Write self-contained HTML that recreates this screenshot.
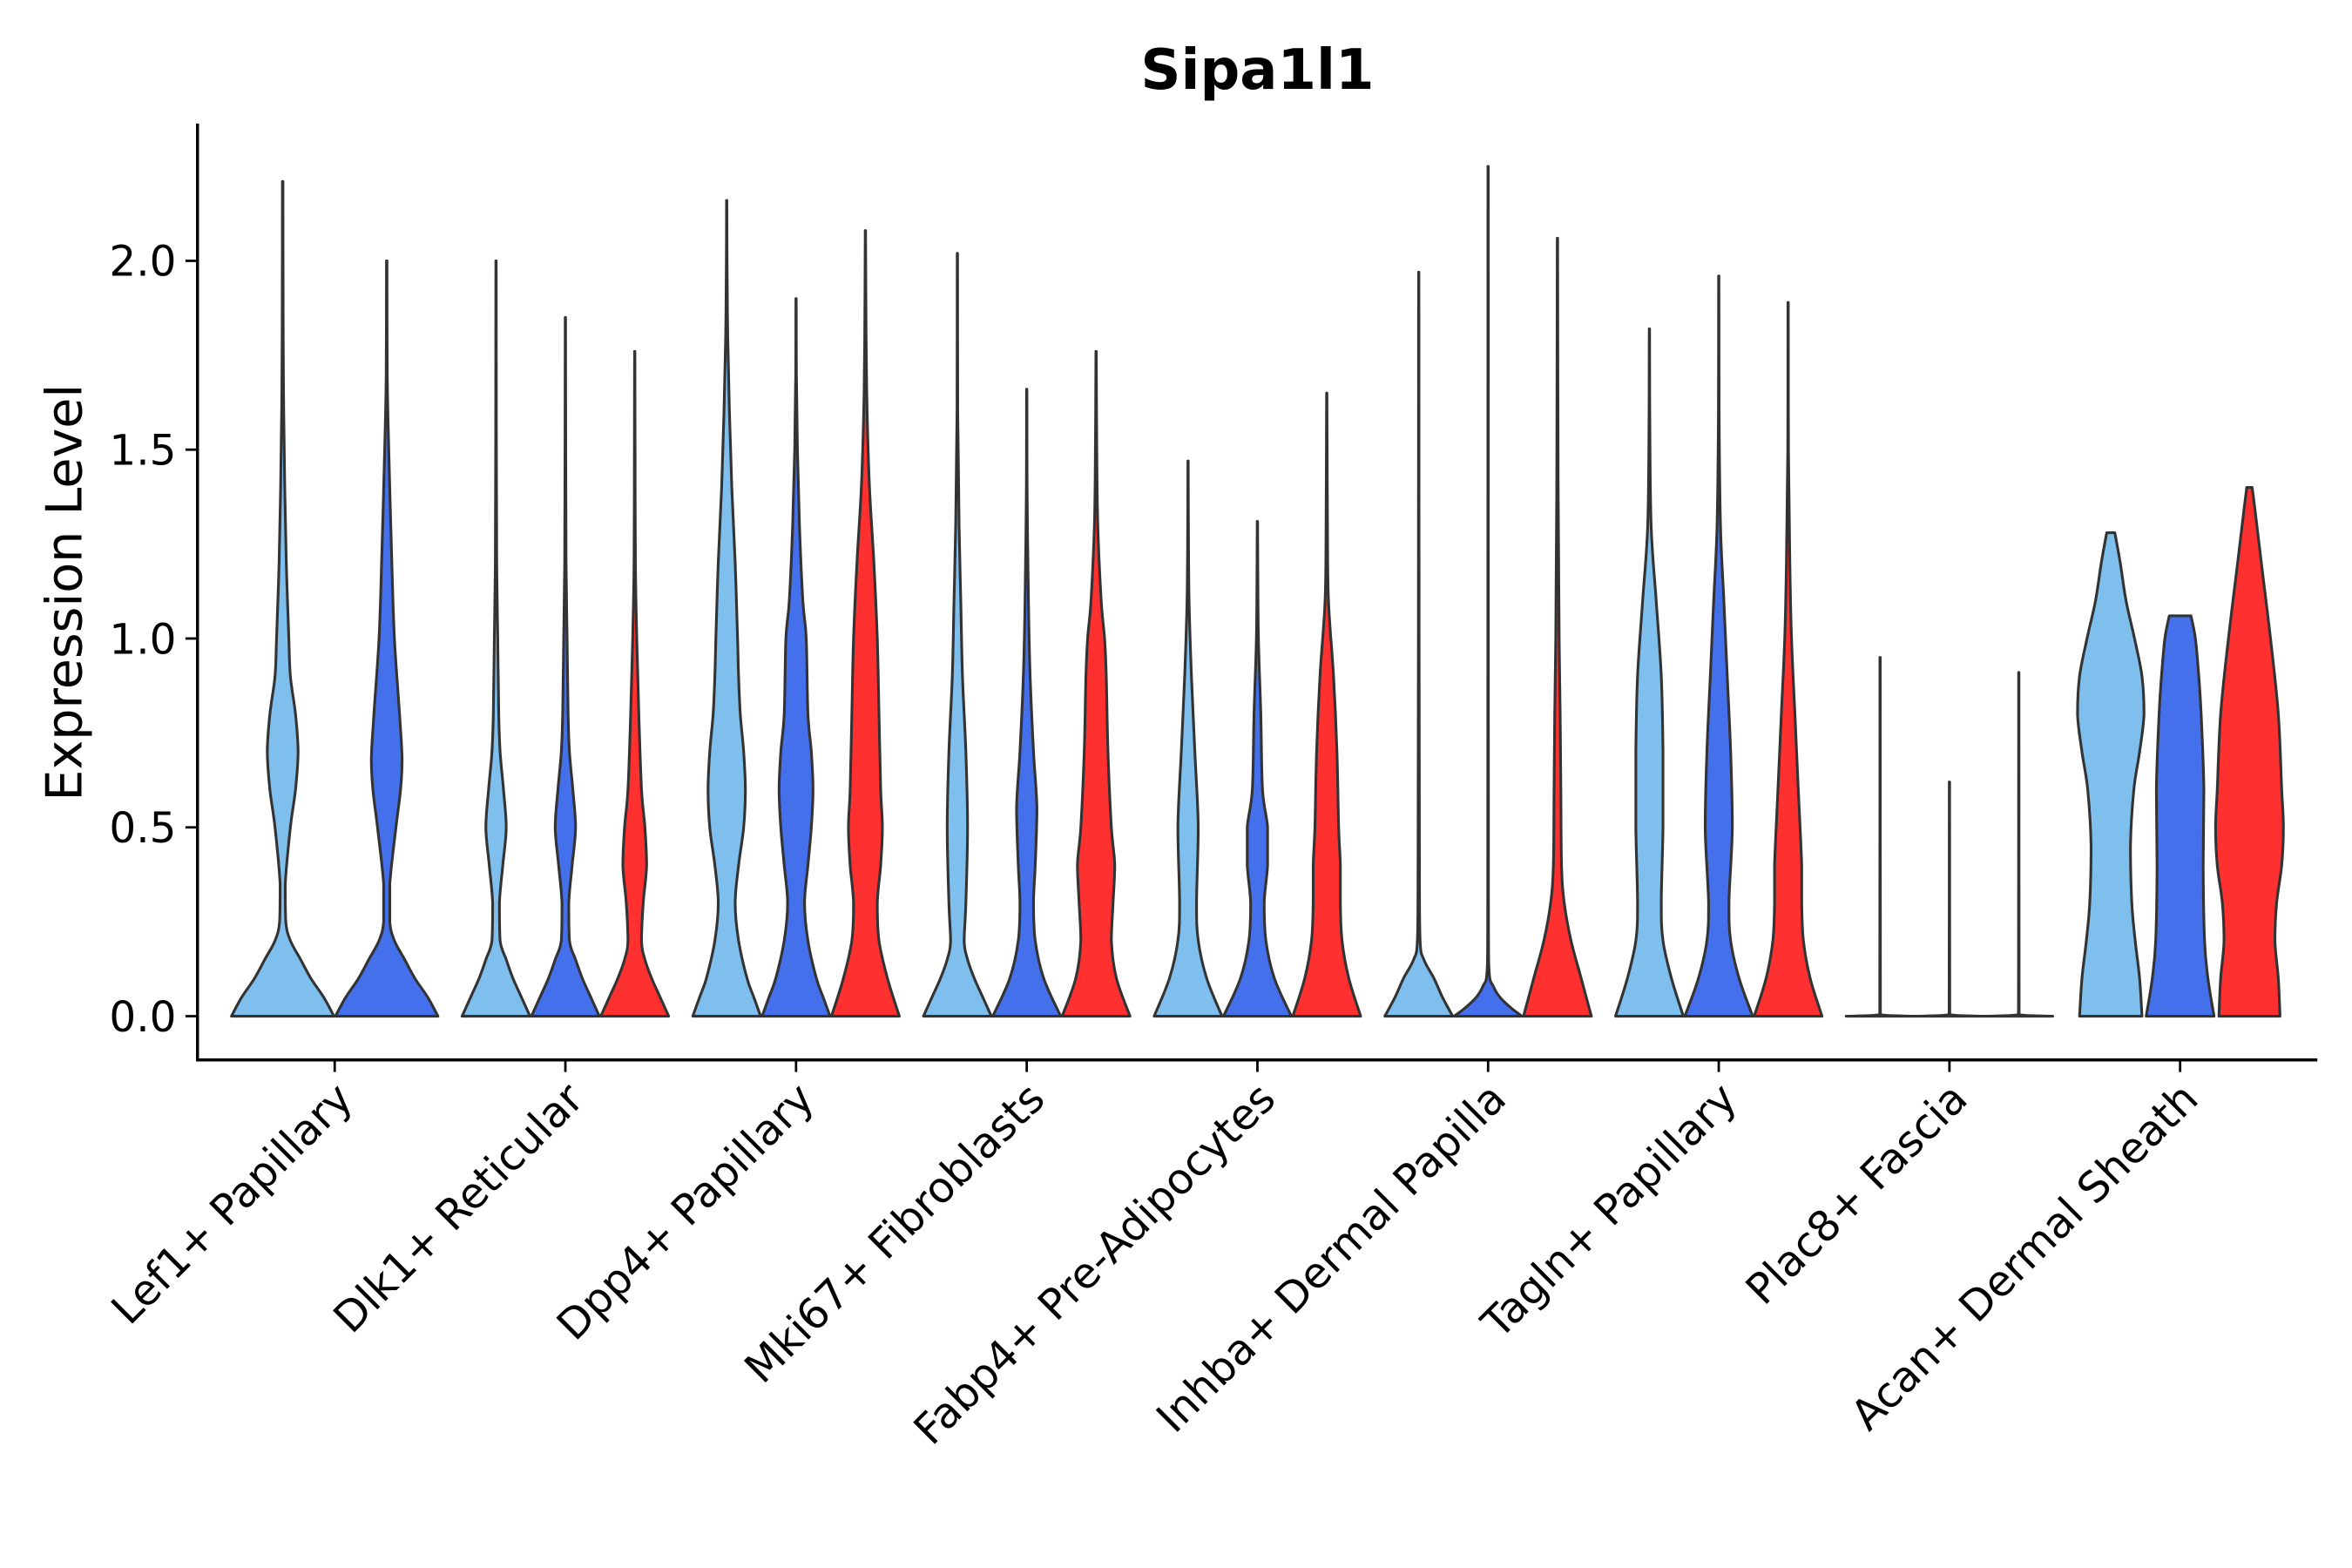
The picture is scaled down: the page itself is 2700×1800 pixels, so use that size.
<!DOCTYPE html>
<html><head><meta charset="utf-8"><style>
html,body{margin:0;padding:0;background:#fff;}
svg{display:block;}
text{font-family:"DejaVu Sans","Liberation Sans",sans-serif;fill:#000;}
</style></head><body>
<svg id="chart" width="2700" height="1800" viewBox="0 0 1560 1040" xmlns="http://www.w3.org/2000/svg">
<text x="834" y="59" text-anchor="middle" font-size="37" font-weight="bold">Sipa1l1</text>
<text transform="translate(54,393) rotate(-90)" text-anchor="middle" font-size="33">Expression Level</text>
<g id="plot"></g>
</svg>
<script>
const categories = ["Lef1+ Papillary","Dlk1+ Reticular","Dpp4+ Papillary","Mki67+ Fibroblasts","Fabp4+ Pre-Adipocytes","Inhba+ Dermal Papilla","Tagln+ Papillary","Plac8+ Fascia","Acan+ Dermal Sheath"];
const yTicks = [0, 0.5, 1.0, 1.5, 2.0];
const yTickLabels = ["0.0","0.5","1.0","1.5","2.0"];
const groupsPerCategory = [["light","blue"],["light","blue","red"],["light","blue","red"],["light","blue","red"],["light","blue","red"],["light","blue","red"],["light","blue","red"],["light","blue","red"],["light","blue","red"]];
const maxValues = [[2.21,2.0],[2.0,1.85,1.76],[2.16,1.9,2.08],[2.02,1.66,1.76],[1.47,1.31,1.65],[1.97,2.25,2.06],[1.82,1.96,1.89],[0.95,0.62,0.91],[1.28,1.06,1.4]];
const profiles = [
 [[[0,1],[.05,.8],[.1,.55],[.15,.35],[.2,.15],[.25,.06],[.35,.05],[.5,.15],[.6,.25],[.7,.3],[.8,.25],[.9,.15],[1.0,.12],[1.2,.07],[1.4,.04],[1.6,.02],[1.8,.01],[2.21,.005]],
  [[0,1],[.05,.8],[.1,.55],[.15,.35],[.2,.15],[.25,.06],[.35,.06],[.5,.18],[.6,.27],[.68,.3],[.8,.25],[1.0,.15],[1.2,.1],[1.5,.04],[1.7,.01],[2.0,.005]]],
 [[[0,1],[.05,.75],[.1,.5],[.15,.3],[.2,.12],[.3,.1],[.4,.2],[.5,.3],[.6,.22],[.7,.12],[.8,.08],[1.0,.05],[1.2,.02],[1.5,.01],[2.0,.005]],
  [[0,1],[.05,.75],[.1,.5],[.15,.3],[.2,.12],[.3,.1],[.4,.2],[.5,.3],[.6,.22],[.7,.12],[.8,.08],[1.0,.05],[1.2,.02],[1.5,.01],[1.85,.005]],
  [[0,1],[.05,.75],[.1,.5],[.15,.3],[.2,.2],[.3,.25],[.4,.35],[.5,.3],[.6,.2],[.8,.12],[1.0,.06],[1.2,.02],[1.5,.01],[1.76,.005]]],
 [[[0,1],[.05,.8],[.1,.6],[.2,.35],[.3,.25],[.4,.35],[.5,.5],[.6,.55],[.7,.5],[.8,.4],[.9,.35],[1.0,.32],[1.2,.25],[1.4,.15],[1.6,.08],[1.8,.03],[2.0,.01],[2.16,.005]],
  [[0,1],[.05,.8],[.1,.6],[.2,.35],[.3,.25],[.4,.35],[.5,.45],[.6,.5],[.7,.45],[.8,.35],[1.0,.3],[1.1,.2],[1.3,.1],[1.5,.04],[1.7,.01],[1.9,.005]],
  [[0,1],[.1,.65],[.2,.4],[.3,.35],[.4,.45],[.5,.5],[.6,.45],[.8,.4],[1.0,.35],[1.2,.25],[1.4,.12],[1.6,.05],[1.8,.02],[2.08,.005]]],
 [[[0,1],[.05,.75],[.1,.5],[.15,.3],[.2,.2],[.3,.25],[.5,.3],[.7,.25],[.9,.15],[1.1,.1],[1.3,.05],[1.6,.01],[2.02,.005]],
  [[0,1],[.1,.5],[.2,.25],[.3,.2],[.4,.25],[.55,.3],[.7,.2],[.9,.1],[1.1,.05],[1.4,.01],[1.66,.005]],
  [[0,1],[.1,.6],[.2,.45],[.3,.5],[.4,.55],[.5,.45],[.7,.35],[.9,.3],[1.0,.25],[1.1,.15],[1.3,.05],[1.5,.02],[1.76,.005]]],
 [[[0,1],[.1,.55],[.2,.3],[.3,.25],[.5,.3],[.7,.2],[.9,.1],[1.1,.03],[1.3,.01],[1.47,.005]],
  [[0,1],[.1,.5],[.2,.25],[.3,.2],[.4,.3],[.5,.3],[.6,.15],[.8,.1],[1.0,.03],[1.2,.01],[1.31,.005]],
  [[0,1],[.1,.65],[.2,.45],[.3,.4],[.4,.4],[.5,.35],[.7,.3],[.9,.2],[1.1,.05],[1.3,.02],[1.65,.005]]],
 [[[0,1],[.05,.7],[.1,.45],[.15,.15],[.2,.04],[.4,.02],[1.0,.01],[1.97,.005]],
  [[0,1],[.02,.7],[.05,.35],[.08,.15],[.12,.03],[.3,.01],[2.25,.005]],
  [[0,1],[.1,.7],[.2,.4],[.3,.2],[.4,.12],[.6,.1],[.8,.08],[1.0,.05],[1.4,.02],[2.06,.005]]],
 [[[0,1],[.1,.65],[.2,.4],[.3,.35],[.5,.4],[.7,.4],[.9,.35],[1.1,.2],[1.3,.05],[1.6,.01],[1.82,.005]],
  [[0,1],[.1,.6],[.2,.35],[.3,.3],[.5,.4],[.7,.35],[.9,.25],[1.1,.15],[1.3,.05],[1.6,.01],[1.96,.005]],
  [[0,1],[.1,.65],[.2,.45],[.3,.4],[.4,.4],[.6,.3],[.8,.2],[1.0,.1],[1.2,.05],[1.5,.01],[1.89,.005]]],
 [[[0,1],[.004,.01],[.95,.005]],
  [[0,1],[.004,.01],[.62,.005]],
  [[0,1],[.004,.01],[.91,.005]]],
 [[[0,.92],[.1,.85],[.2,.72],[.3,.62],[.45,.58],[.6,.68],[.7,.85],[.8,.98],[.9,.92],[1.0,.7],[1.1,.45],[1.2,.28],[1.28,.12]],
  [[0,1],[.1,.82],[.2,.72],[.4,.68],[.6,.7],[.8,.62],[.9,.55],[1.0,.45],[1.06,.32]],
  [[0,.9],[.1,.85],[.2,.75],[.3,.8],[.4,.95],[.5,1.0],[.6,.95],[.8,.85],[1.0,.62],[1.2,.35],[1.35,.15],[1.4,.08]]]
];
const colors = {light:"#7FBFEE", blue:"#4570EC", red:"#FF3030"};

const NS = "http://www.w3.org/2000/svg";
const plot = document.getElementById("plot");
const X0 = 131, X1 = 1537, Y0px = 674, UNIT = 250.5;
function yScale(v){ return Y0px - v*UNIT; }
function xScale(i){ return 222 + i*153; }
function mk(tag, attrs){ const e = document.createElementNS(NS, tag); for (const k in attrs) e.setAttribute(k, attrs[k]); plot.appendChild(e); return e; }
function clamp(v, a, b){ const lo = Math.min(a,b), hi = Math.max(a,b); return Math.max(lo, Math.min(hi, v)); }
function smoothSeg(pts){
  let s = "";
  for (let i = 0; i < pts.length-1; i++){
    const p0 = pts[Math.max(0,i-1)], p1 = pts[i], p2 = pts[i+1], p3 = pts[Math.min(pts.length-1,i+2)];
    const c1 = [clamp(p1[0] + (p2[0]-p0[0])/6, p1[0], p2[0]), clamp(p1[1] + (p2[1]-p0[1])/6, p1[1], p2[1])];
    const c2 = [clamp(p2[0] - (p3[0]-p1[0])/6, p1[0], p2[0]), clamp(p2[1] - (p3[1]-p1[1])/6, p1[1], p2[1])];
    s += "C"+c1[0].toFixed(2)+","+c1[1].toFixed(2)+" "+c2[0].toFixed(2)+","+c2[1].toFixed(2)+" "+p2[0].toFixed(2)+","+p2[1].toFixed(2);
  }
  return s;
}

categories.forEach((cat, ci) => {
  const groups = groupsPerCategory[ci];
  const n = groups.length;
  const dodge = 138;
  const slot = dodge / n;
  const halfW = slot / 2 - 0.5;
  groups.forEach((g, gi) => {
    const cx = xScale(ci) - dodge/2 + slot*(gi+0.5);
    const prof = profiles[ci][gi].slice();
    const mx = maxValues[ci][gi];
    prof[prof.length-1] = [mx, prof[prof.length-1][1]];
    const right = prof.filter(p => p[0] <= mx).map(p => [cx + p[1]*halfW, yScale(p[0])]);
    const left = prof.filter(p => p[0] <= mx).map(p => [cx - p[1]*halfW, yScale(p[0])]).reverse();
    const d = "M"+right[0][0].toFixed(2)+","+right[0][1].toFixed(2) + smoothSeg(right) +
              "L"+left[0][0].toFixed(2)+","+left[0][1].toFixed(2) + smoothSeg(left) + "Z";
    const path = mk("path", {d:d, fill:colors[g], stroke:"#333", "stroke-width":1.8, "stroke-linejoin":"round"});
    
    
  });
  const tx = xScale(ci);
  const tk = mk("line", {x1:tx, x2:tx, y1:703, y2:711, stroke:"#000", "stroke-width":1.6});
  
  
  const lbl = mk("text", {transform:"translate("+(tx-1)+",716) rotate(-45)", "text-anchor":"end", "font-size":"28", "dominant-baseline":"hanging"});
  lbl.textContent = cat;
  
  
});

yTicks.forEach((v, i) => {
  const y = yScale(v);
  const t = mk("line", {x1:123, x2:131, y1:y, y2:y, stroke:"#000", "stroke-width":1.6});
  
  
  const l = mk("text", {x:117, y:y+10, "text-anchor":"end", "font-size":"28"});
  l.textContent = yTickLabels[i];
  
  
});
const ya = mk("line", {x1:X0, x2:X0, y1:82, y2:704, stroke:"#000", "stroke-width":2});


const xa = mk("line", {x1:X0-1, x2:X1, y1:703, y2:703, stroke:"#000", "stroke-width":2});


</script>
</body></html>
